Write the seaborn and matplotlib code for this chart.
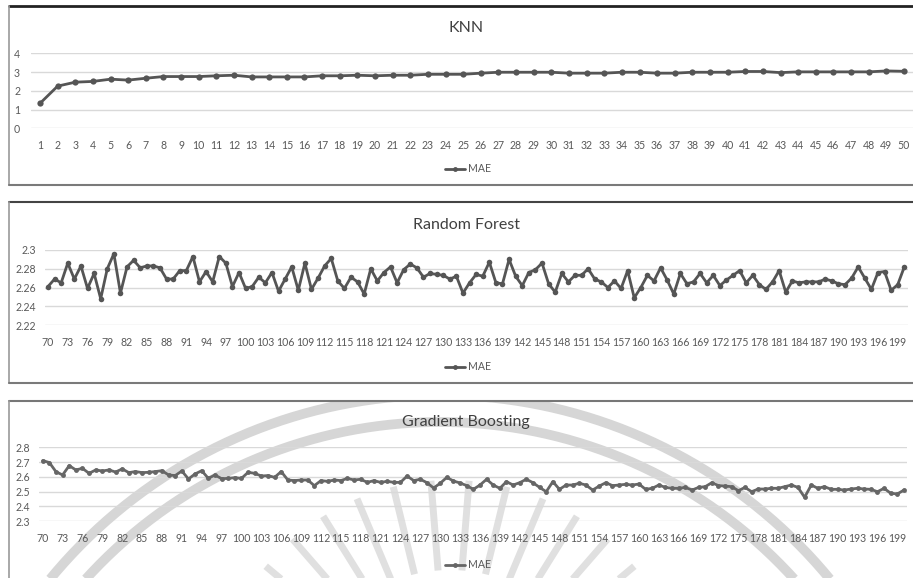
import numpy as np
import pandas as pd
import matplotlib
matplotlib.use("Agg")
import matplotlib.pyplot as plt
import seaborn as sns
from matplotlib.lines import Line2D

# ---------------- data ----------------
knn_k = list(range(1, 51))
knn_mae = [1.33, 2.25, 2.46, 2.50, 2.62, 2.57, 2.67, 2.76, 2.76, 2.76,
           2.80, 2.83, 2.74, 2.74, 2.74, 2.74, 2.80, 2.80, 2.83, 2.80,
           2.83, 2.83, 2.88, 2.88, 2.88, 2.94, 2.99, 2.99, 2.99, 2.99,
           2.94, 2.94, 2.94, 2.99, 2.99, 2.94, 2.94, 2.99, 2.99, 2.99,
           3.03, 3.03, 2.97, 3.01, 3.01, 3.01, 3.01, 3.01, 3.06, 3.04]

est_n = list(range(70, 201))
rf_mae = [2.261, 2.269, 2.265, 2.286, 2.269, 2.283, 2.259, 2.275, 2.248, 2.280,
          2.296, 2.254, 2.282, 2.289, 2.281, 2.283, 2.283, 2.281, 2.269, 2.269,
          2.278, 2.278, 2.293, 2.266, 2.277, 2.266, 2.293, 2.286, 2.261, 2.276,
          2.259, 2.261, 2.271, 2.265, 2.276, 2.256, 2.269, 2.282, 2.257, 2.286,
          2.258, 2.270, 2.283, 2.291, 2.267, 2.259, 2.271, 2.266, 2.253, 2.280,
          2.267, 2.276, 2.282, 2.265, 2.279, 2.285, 2.281, 2.271, 2.275, 2.274,
          2.273, 2.269, 2.272, 2.254, 2.265, 2.274, 2.272, 2.287, 2.265, 2.264,
          2.290, 2.272, 2.262, 2.276, 2.279, 2.286, 2.264, 2.255, 2.275, 2.266,
          2.273, 2.273, 2.280, 2.269, 2.266, 2.260, 2.267, 2.259, 2.278, 2.249,
          2.260, 2.273, 2.267, 2.281, 2.268, 2.253, 2.275, 2.264, 2.266, 2.275,
          2.265, 2.273, 2.262, 2.268, 2.273, 2.278, 2.265, 2.273, 2.263, 2.258,
          2.266, 2.278, 2.255, 2.267, 2.265, 2.266, 2.266, 2.266, 2.269, 2.267,
          2.264, 2.263, 2.270, 2.282, 2.270, 2.258, 2.276, 2.277, 2.257, 2.263,
          2.282]
gb_mae = [2.710, 2.697, 2.635, 2.613, 2.676, 2.647, 2.658, 2.624, 2.647, 2.640,
          2.647, 2.633, 2.654, 2.629, 2.636, 2.629, 2.631, 2.636, 2.642, 2.613,
          2.609, 2.640, 2.586, 2.620, 2.642, 2.590, 2.613, 2.588, 2.590, 2.595,
          2.590, 2.631, 2.624, 2.606, 2.609, 2.597, 2.636, 2.579, 2.575, 2.579,
          2.579, 2.541, 2.575, 2.570, 2.579, 2.575, 2.590, 2.579, 2.584, 2.563,
          2.575, 2.563, 2.570, 2.563, 2.563, 2.606, 2.575, 2.584, 2.561, 2.525,
          2.557, 2.597, 2.572, 2.559, 2.541, 2.516, 2.545, 2.584, 2.545, 2.523,
          2.568, 2.545, 2.561, 2.584, 2.561, 2.529, 2.500, 2.568, 2.516, 2.545,
          2.545, 2.557, 2.545, 2.511, 2.538, 2.561, 2.541, 2.545, 2.550, 2.545,
          2.552, 2.516, 2.523, 2.545, 2.529, 2.523, 2.523, 2.529, 2.511, 2.529,
          2.534, 2.561, 2.541, 2.538, 2.534, 2.507, 2.529, 2.500, 2.518, 2.518,
          2.523, 2.523, 2.534, 2.545, 2.529, 2.462, 2.545, 2.523, 2.534, 2.516,
          2.516, 2.511, 2.518, 2.523, 2.518, 2.516, 2.500, 2.523, 2.489, 2.485,
          2.511]

knn_yticks = [0, 1, 2, 3, 4]
rf_yticks = [2.22, 2.24, 2.26, 2.28, 2.30]
rf_ylabels = ["2.22", "2.24", "2.26", "2.28", "2.3"]
gb_yticks = [2.3, 2.4, 2.5, 2.6, 2.7, 2.8]
gb_ylabels = ["2.3", "2.4", "2.5", "2.6", "2.7", "2.8"]
est_xticks = list(range(70, 200, 3))

titles = ["KNN", "Random Forest", "Gradient Boosting"]
legend_label = "MAE"

# ---------------- style ----------------
sns.set_style("white")
plt.rcParams["font.family"] = ["Lato", "DejaVu Sans"]

W, H = 913, 578
fig = plt.figure(figsize=(W / 100, H / 100), dpi=100)
fig.patch.set_facecolor("white")

TXT = "#595959"
GRID = "#d9d9d9"


def px_axes(left, top, right, bottom, **kw):
    return fig.add_axes([left / W, 1 - bottom / H, (right - left) / W, (bottom - top) / H], **kw)


def px_line(x0, y0, x1, y1, color, lw):
    fig.add_artist(Line2D([x0 / W, x1 / W], [1 - y0 / H, 1 - y1 / H],
                          transform=fig.transFigure, color=color, lw=lw))


# faint watermark (background seal) inside the bottom panel only
wm = px_axes(10, 402, 913, 578, zorder=-5)
wm.set_xlim(10, 913)
wm.set_ylim(578, 402)
wm.axis("off")
theta = np.linspace(np.pi * 1.0, np.pi * 2.0, 400)
for r in (505, 478):
    wm.plot(440 + r * np.cos(theta), 900 + r * np.sin(theta), color="#d6d6d6", lw=7,
            solid_capstyle="butt")
for ang in np.linspace(np.pi * 1.12, np.pi * 1.88, 16):
    wm.plot([450 + 150 * np.cos(ang), 450 + 240 * np.cos(ang)],
            [720 + 150 * np.sin(ang), 720 + 240 * np.sin(ang)],
            color="#e0e0e0", lw=5, solid_capstyle="butt")

# panel borders
px_line(9, 6, 913, 6, "#222222", 2.0)
px_line(9, 6, 9, 185, "#9a9a9a", 1.2)
px_line(9, 185, 913, 185, "#7a7a7a", 1.5)
px_line(9, 202, 913, 202, "#444444", 1.5)
px_line(9, 202, 9, 383, "#9a9a9a", 1.2)
px_line(9, 383, 913, 383, "#7a7a7a", 1.5)
px_line(9, 401, 913, 401, "#777777", 1.5)
px_line(9, 401, 9, 578, "#9a9a9a", 1.2)

panels = [
    dict(box=(31.2, 53.3, 912.8, 128.3), x=knn_k, y=knn_mae, xlim=(0.5, 50.5),
         ylim=(0, 4), yt=knn_yticks, yl=[str(v) for v in knn_yticks],
         xt=knn_k, xl=[str(v) for v in knn_k], color="#555555",
         title_y=28, leg_y=169, xpad=8.5, ypad=8.0, ms=4.5),
    dict(box=(44.7, 250, 907.6, 325), x=est_n, y=rf_mae, xlim=(69.5, 200.5),
         ylim=(2.22, 2.30), yt=rf_yticks, yl=rf_ylabels,
         xt=est_xticks, xl=[str(v) for v in est_xticks], color="#555555",
         title_y=225, leg_y=367, xpad=9.0, ypad=6.0, ms=4.0),
    dict(box=(39.4, 447.3, 907.3, 521.3), x=est_n, y=gb_mae, xlim=(69.5, 200.5),
         ylim=(2.3, 2.8), yt=gb_yticks, yl=gb_ylabels,
         xt=est_xticks, xl=[str(v) for v in est_xticks], color="#666666",
         title_y=422, leg_y=565, xpad=8.5, ypad=7.0, ms=3.5),
]

for p, title in zip(panels, titles):
    ax = px_axes(*p["box"])
    ax.set_facecolor("none")
    df = pd.DataFrame({"n": p["x"], "MAE": p["y"]})
    sns.lineplot(data=df, x="n", y="MAE", ax=ax, color=p["color"], lw=2.0,
                 marker="o", markersize=p["ms"], markeredgewidth=0,
                 label=legend_label, legend=False, zorder=3)
    ax.set_xlim(*p["xlim"])
    ax.set_ylim(*p["ylim"])
    ax.set_yticks(p["yt"])
    ax.set_yticklabels(p["yl"])
    ax.set_xticks(p["xt"])
    ax.set_xticklabels(p["xl"])
    ax.set_xlabel("")
    ax.set_ylabel("")
    for s in ax.spines.values():
        s.set_visible(False)
    ax.yaxis.grid(True, color=GRID, lw=1.0)
    ax.xaxis.grid(False)
    ax.set_axisbelow(True)
    ax.tick_params(axis="x", length=0, pad=p["xpad"], labelsize=7.6, colors=TXT)
    ax.tick_params(axis="y", length=0, pad=p["ypad"], labelsize=7.6, colors=TXT)
    fig.text(466 / W, 1 - p["title_y"] / H, title, ha="center", va="center",
             fontsize=11.5, color="#404040")
    h = Line2D([], [], color=p["color"], lw=2.0, marker="o", markersize=3.5,
               markeredgewidth=0)
    fig.legend([h], [legend_label], loc="center", bbox_to_anchor=(468 / W, 1 - p["leg_y"] / H),
               frameon=False, fontsize=7.6, handlelength=1.9, handletextpad=0.2,
               labelcolor=TXT, borderpad=0)

fig.savefig("out.png", dpi=100, facecolor="white")
